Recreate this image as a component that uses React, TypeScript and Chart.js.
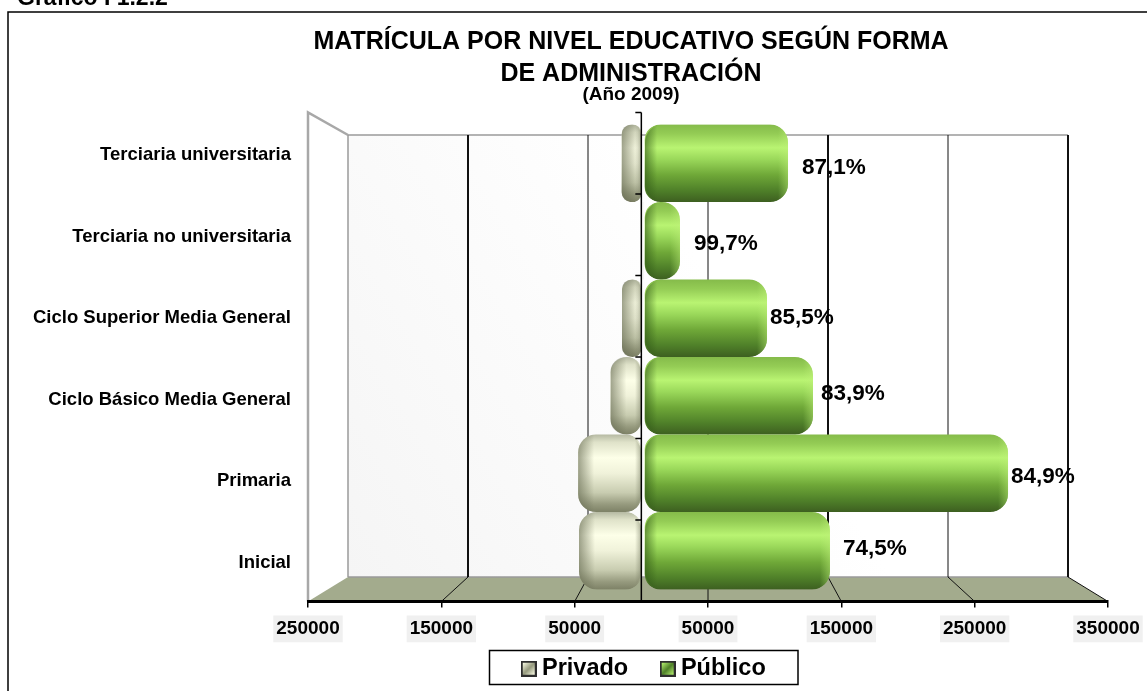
import React, { useEffect, useRef } from "react";
import { Chart, registerables } from "chart.js";

Chart.register(...registerables);

const FONT = '"Liberation Sans", Arial, sans-serif';

const categories = [
  "Terciaria universitaria",
  "Terciaria no universitaria",
  "Ciclo Superior Media General",
  "Ciclo Básico Media General",
  "Primaria",
  "Inicial",
];
const privado = [-16960, -88, -16600, -25750, -51260, -50520];
const publico = [114500, 29200, 97900, 134200, 288200, 147600];
const shares = ["87,1%", "99,7%", "85,5%", "83,9%", "84,9%", "74,5%"];
const axisTicks = [-250000, -150000, -50000, 50000, 150000, 250000, 350000];
const titleLines = ["MATRÍCULA POR NIVEL EDUCATIVO SEGÚN FORMA", "DE ADMINISTRACIÓN"];
const subtitleText = "(Año 2009)";
const captionText = "Gráfico I 1.2.2";

// Label nudges from each bar's end, as placed in the original.
const shareDx = [14, 14, 3, 8, 3, 13];
const shareDy = [5, 3, 0, -2, 4, -2];
const gridWidths = [2, 1, 1, 2, 1, 2];

const PUBLIC_STOPS: [number, string][] = [
  [0, "#85bb4a"], [0.12, "#94cc55"], [0.3, "#b9f472"], [0.45, "#9ad85a"],
  [0.65, "#6fa838"], [0.85, "#4f8029"], [1, "#3d5f20"],
];
const PRIVATE_STOPS: [number, string][] = [
  [0, "#b5b9a2"], [0.1, "#dfe2c9"], [0.3, "#fdffe8"], [0.5, "#f0f2da"],
  [0.75, "#c8ccb0"], [0.9, "#969a7e"], [1, "#7d8166"],
];

const BAR_THICK = 77.6;
const DEPTH = 0.9; // back wall is 90% of the front plane's width
const WALL_TOP = 135;
const WALL_BOTTOM = 577;

function barFill(stops: [number, string][]) {
  return (c: any) => {
    if (c.type !== "data") return stops[2][1];
    const yc = c.chart.scales.yBars.getPixelForValue(c.dataIndex);
    const g = c.chart.ctx.createLinearGradient(0, yc - BAR_THICK / 2, 0, yc + BAR_THICK / 2);
    stops.forEach(([o, col]) => g.addColorStop(o, col));
    return g;
  };
}

function legendIcon(stops: [number, string][]) {
  const cv = document.createElement("canvas");
  cv.width = 16;
  cv.height = 16;
  const c = cv.getContext("2d")!;
  c.fillStyle = "#2e2e2e";
  c.fillRect(0, 0, 16, 16);
  const g = c.createLinearGradient(2, 2, 14, 14);
  g.addColorStop(0, stops[2][1]);
  g.addColorStop(0.5, stops[5][1]);
  g.addColorStop(1, stops[2][1]);
  c.fillStyle = g;
  c.fillRect(2, 2, 12, 12);
  return cv;
}

const stage = {
  id: "stage",
  beforeDraw(chart: any) {
    const { ctx } = chart;
    const x = chart.scales.x;
    const { top, bottom, left, right } = chart.chartArea;
    const cx = (left + right) / 2;
    const back = (px: number) => cx + (px - cx) * DEPTH;
    const bl = back(left);
    const br = back(right);
    ctx.save();
    ctx.fillStyle = "#fff";
    ctx.fillRect(0, 0, chart.width, chart.height);

    // page frame and caption
    ctx.strokeStyle = "#000";
    ctx.lineWidth = 1.5;
    ctx.beginPath();
    ctx.moveTo(8, chart.height);
    ctx.lineTo(8, 12);
    ctx.lineTo(chart.width, 12);
    ctx.stroke();
    ctx.fillStyle = "#000";
    ctx.font = `bold 23px ${FONT}`;
    ctx.textBaseline = "alphabetic";
    ctx.textAlign = "left";
    ctx.fillText(captionText, 17, 5);

    // back wall
    const wall = ctx.createLinearGradient(bl, WALL_BOTTOM, br, WALL_TOP);
    wall.addColorStop(0, "#f5f5f5");
    wall.addColorStop(0.55, "#ffffff");
    ctx.fillStyle = wall;
    ctx.fillRect(bl, WALL_TOP, br - bl, WALL_BOTTOM - WALL_TOP);

    // floor
    ctx.fillStyle = "#a3ab8d";
    ctx.beginPath();
    ctx.moveTo(left, bottom);
    ctx.lineTo(bl, WALL_BOTTOM);
    ctx.lineTo(br, WALL_BOTTOM);
    ctx.lineTo(right, bottom);
    ctx.closePath();
    ctx.fill();

    // wall outlines
    ctx.strokeStyle = "#a8a8a8";
    ctx.lineWidth = 2.5;
    ctx.beginPath();
    ctx.moveTo(left, bottom);
    ctx.lineTo(left, top);
    ctx.lineTo(bl, WALL_TOP);
    ctx.stroke();
    ctx.lineWidth = 1.5;
    ctx.strokeStyle = "#9a9a9a";
    ctx.beginPath();
    ctx.moveTo(bl, WALL_TOP);
    ctx.lineTo(bl, WALL_BOTTOM);
    ctx.moveTo(bl, WALL_TOP);
    ctx.lineTo(br, WALL_TOP);
    ctx.moveTo(bl, WALL_BOTTOM);
    ctx.lineTo(br, WALL_BOTTOM);
    ctx.stroke();

    // gridlines: up the back wall and across the floor
    axisTicks.forEach((t, i) => {
      const front = x.getPixelForValue(t);
      const b = back(front);
      if (i === 0) return;
      ctx.strokeStyle = "#111";
      ctx.lineWidth = gridWidths[i - 1];
      ctx.beginPath();
      ctx.moveTo(b, WALL_TOP);
      ctx.lineTo(b, WALL_BOTTOM);
      ctx.stroke();
      ctx.lineWidth = 1;
      ctx.beginPath();
      ctx.moveTo(b, WALL_BOTTOM);
      ctx.lineTo(front, bottom);
      ctx.stroke();
    });

    // legend frame
    ctx.fillStyle = "#fff";
    ctx.strokeStyle = "#000";
    ctx.lineWidth = 1.5;
    ctx.fillRect(489.5, 650.5, 308.5, 34);
    ctx.strokeRect(489.5, 650.5, 308.5, 34);
    ctx.restore();
  },
  afterDatasetsDraw(chart: any) {
    const { ctx } = chart;
    const RAD = 18;
    const shade = (bar: any, from: number, to: number, col0: string, col1: string) => {
      const g = ctx.createLinearGradient(from, 0, to, 0);
      g.addColorStop(0, col0);
      g.addColorStop(1, col1);
      ctx.fillStyle = g;
      ctx.fillRect(Math.min(from, to), bar.y - BAR_THICK / 2, Math.abs(to - from), BAR_THICK);
    };
    ctx.save();
    const [priv, pub] = [chart.getDatasetMeta(0).data, chart.getDatasetMeta(1).data];
    pub.forEach((bar: any) => {
      const l = bar.base + 2;
      ctx.save();
      ctx.beginPath();
      ctx.roundRect(l, bar.y - BAR_THICK / 2, bar.x - l, BAR_THICK, RAD);
      ctx.clip();
      shade(bar, l, l + 12, "rgba(45,85,20,0.6)", "rgba(45,85,20,0)");
      shade(bar, bar.x, bar.x - 10, "rgba(190,240,120,0.45)", "rgba(190,240,120,0)");
      ctx.restore();
    });
    priv.forEach((bar: any) => {
      const r = bar.base - 2;
      if (r - bar.x < 2) return;
      ctx.save();
      ctx.beginPath();
      ctx.roundRect(bar.x, bar.y - BAR_THICK / 2, r - bar.x, BAR_THICK, RAD);
      ctx.clip();
      shade(bar, bar.x, bar.x + 16, "rgba(95,100,75,0.6)", "rgba(95,100,75,0)");
      shade(bar, r, r - 6, "rgba(120,125,100,0.5)", "rgba(120,125,100,0)");
      ctx.restore();
    });

    // category axis standing on the front plane, at zero
    const x0 = chart.scales.x.getPixelForValue(0);
    const { top, bottom } = chart.chartArea;
    ctx.strokeStyle = "#000";
    ctx.lineWidth = 1.5;
    ctx.beginPath();
    ctx.moveTo(x0, top);
    ctx.lineTo(x0, bottom);
    const band = (bottom - top) / categories.length;
    for (let i = 0; i <= categories.length; i++) {
      ctx.moveTo(x0 - 6, top + band * i);
      ctx.lineTo(x0, top + band * i);
    }
    ctx.stroke();

    // share labels
    ctx.fillStyle = "#000";
    ctx.font = `bold 22.5px ${FONT}`;
    ctx.textAlign = "left";
    ctx.textBaseline = "middle";
    pub.forEach((bar: any, i: number) => {
      ctx.fillText(shares[i], bar.x + shareDx[i], bar.y + shareDy[i]);
    });
    ctx.restore();
  },
  afterLayout(chart: any) {
    chart.boxes.forEach((b: any) => {
      if (typeof b._drawArgs === "function") {
        b.left += 77;
        b.right += 77;
      }
    });
    const lg = chart.legend;
    lg.left += 92.5;
    lg.right += 92.5;
    lg.top = 619;
  },
};

export default function App() {
  const ref = useRef<HTMLCanvasElement>(null);
  useEffect(() => {
    const chart = new Chart(ref.current!, {
      type: "bar",
      data: {
        labels: categories,
        datasets: [
          {
            label: "Privado",
            data: privado.map((v, i) => ({ x: v, y: i })),
            backgroundColor: barFill(PRIVATE_STOPS),
            borderColor: "rgba(0,0,0,0)",
            borderWidth: { left: 0, right: 2, top: 0, bottom: 0 },
            borderSkipped: false,
            borderRadius: 18,
            barThickness: BAR_THICK,
            xAxisID: "xBars",
            yAxisID: "yBars",
          },
          {
            label: "Público",
            data: publico.map((v, i) => ({ x: v, y: i })),
            backgroundColor: barFill(PUBLIC_STOPS),
            borderColor: "rgba(0,0,0,0)",
            borderWidth: { left: 2, right: 0, top: 0, bottom: 0 },
            borderSkipped: false,
            borderRadius: 18,
            barThickness: BAR_THICK,
            xAxisID: "xBars",
            yAxisID: "yBars",
          },
        ],
      } as any,
      options: {
        indexAxis: "y",
        responsive: false,
        animation: false,
        layout: { padding: { top: 0, left: 0, right: 39, bottom: -71 } },
        scales: {
          x: {
            type: "linear",
            position: "bottom",
            min: -250000,
            max: 350000,
            afterBuildTicks: (s: any) => {
              s.ticks = axisTicks.map((value) => ({ value }));
            },
            afterFit: (s: any) => {
              s.height = 89;
              s.paddingRight = 0;
            },
            grid: { drawOnChartArea: false, color: "#000", tickLength: 6, lineWidth: 1.5 },
            border: { display: true, color: "#000", width: 3 },
            ticks: {
              autoSkip: false,
              maxRotation: 0,
              padding: 10,
              color: "#000",
              font: { family: FONT, size: 19, weight: "bold" },
              callback: (v: any) => String(Math.abs(Number(v))),
              showLabelBackdrop: true,
              backdropColor: "#f0f0f0",
              backdropPadding: { x: 3, y: 2 },
            },
          },
          y: {
            type: "category",
            position: "left",
            offset: true,
            afterFit: (s: any) => {
              s.width = 308;
            },
            grid: { display: false, drawTicks: false },
            border: { display: false },
            ticks: {
              padding: 17,
              autoSkip: false,
              labelOffset: 2,
              color: "#000",
              font: { family: FONT, size: 18.5, weight: "bold" },
            },
          },
          // The bars stand halfway into the depth of the 3-D box, so they read off
          // a plane that is narrower than the front axis.
          xBars: {
            type: "linear",
            axis: "x",
            display: false,
            stacked: true,
            min: -264470,
            max: 367100,
          },
          yBars: {
            type: "linear",
            axis: "y",
            display: false,
            stacked: true,
            reverse: true,
            offset: false,
            min: -0.655,
            max: 5.655,
          },
        },
        plugins: {
          tooltip: { enabled: false },
          title: {
            display: true,
            text: titleLines,
            color: "#000",
            font: { family: FONT, size: 25, weight: "bold", lineHeight: 1.28 },
            padding: { top: 26, bottom: 0 },
          },
          subtitle: {
            display: true,
            text: subtitleText,
            color: "#000",
            font: { family: FONT, size: 19, weight: "bold", lineHeight: 0.5 },
            padding: { top: 0, bottom: 13 },
          },
          legend: {
            display: true,
            position: "bottom",
            labels: {
              usePointStyle: true,
              pointStyleWidth: 3,
              padding: 38,
              color: "#000",
              font: { family: FONT, size: 23.5, weight: "bold" },
              generateLabels: () => [
                { text: "Privado", pointStyle: legendIcon(PRIVATE_STOPS), datasetIndex: 0, fontColor: "#000" },
                { text: "Público", pointStyle: legendIcon(PUBLIC_STOPS), datasetIndex: 1, fontColor: "#000" },
              ],
            },
          },
        },
      } as any,
      plugins: [stage],
    });
    return () => chart.destroy();
  }, []);
  return (
    <canvas
      ref={ref}
      width={1147}
      height={691}
      style={{ position: "absolute", left: 0, top: 0, width: 1147, height: 691 }}
    />
  );
}
